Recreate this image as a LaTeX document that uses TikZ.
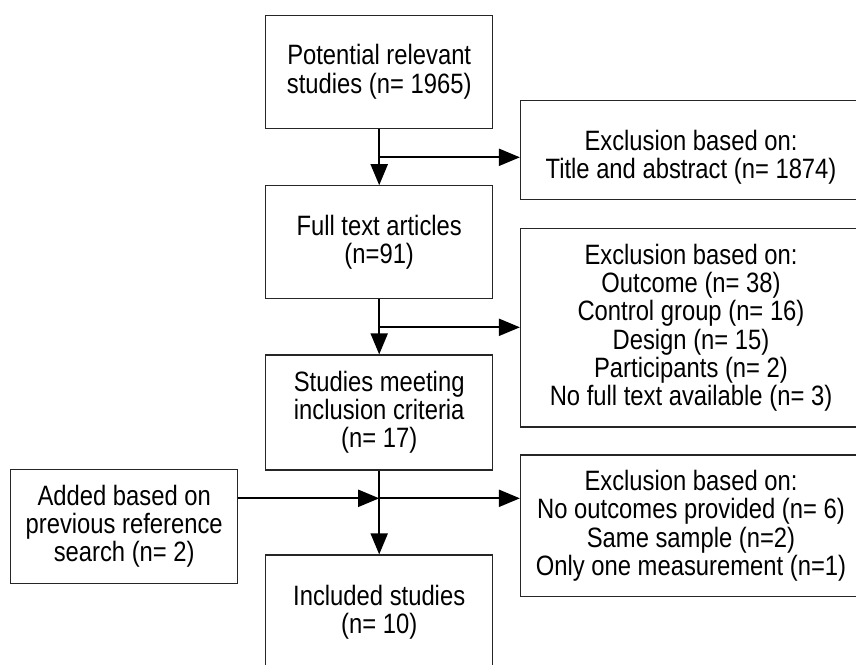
\documentclass[tikz,border=0pt]{standalone}
\usepackage{fontspec}
\setmainfont{Liberation Sans}
\newfontfamily\narrowarial[FakeStretch=0.85]{Liberation Sans}
\usetikzlibrary{arrows.meta}
\begin{document}
\begin{tikzpicture}[x=1pt,y=-1pt,
  box/.style={draw=black!85,line width=1.2pt,rectangle,inner sep=0pt,
    align=center,font=\narrowarial\fontsize{28}{28.2}\selectfont},
  txt/.style={inner sep=0pt,align=center,font=\narrowarial\fontsize{28}{28.2}\selectfont},
  arr/.style={line width=2pt,-{Triangle[length=21pt,width=17pt]}}]
\useasboundingbox (0,0) rectangle (856,664);
\clip (0,0) rectangle (856,664);
% main column
\node[box,minimum width=227pt,minimum height=113pt] (pot) at (379.2,71.7)
  {Potential relevant\\studies (n= 1965)};
\node[box,minimum width=227pt,minimum height=113pt] (full) at (379.2,242.3)
  {Full text articles\\(n=91)};
\node[box,minimum width=227pt,minimum height=115pt] (meet) at (379.2,412.5)
  {Studies meeting\\inclusion criteria\\(n= 17)};
\node[box,minimum width=227pt,minimum height=114pt] (incl) at (379.2,612)
  {Included studies\\(n= 10)};
\node[box,minimum width=227pt,minimum height=114pt] (added) at (124.2,526.3)
  {Added based on\\previous reference\\search (n= 2)};
% exclusion boxes
\node[box,minimum width=341pt,minimum height=98.6pt] (ex1) at (691,150) {};
\node[txt] (ex1t) at (691,157)
  {Exclusion based on:\\Title and abstract (n= 1874)};
\node[box,minimum width=341pt,minimum height=198.7pt] (ex2) at (691,327.7)
  {Exclusion based on:\\Outcome (n= 38)\\Control group (n= 16)\\Design (n= 15)\\Participants (n= 2)\\No full text available (n= 3)};
\node[box,minimum width=341pt,minimum height=141.7pt] (ex3) at (691,525.8)
  {Exclusion based on:\\No outcomes provided (n= 6)\\Same sample (n=2)\\Only one measurement (n=1)};
% junction points
\coordinate (j1) at (379.2,157.3);
\coordinate (j2) at (379.2,327.3);
\coordinate (j3) at (379.2,498.3);
% connectors
\draw[arr] (pot.south) -- (full.north);
\draw[arr] (j1) -- (ex1.west |- j1);
\draw[arr] (full.south) -- (meet.north);
\draw[arr] (j2) -- (ex2.west |- j2);
\draw[arr] (meet.south) -- (incl.north);
\draw[arr] (added.east |- j3) -- (j3);
\draw[arr] (j3) -- (ex3.west |- j3);
\end{tikzpicture}
\end{document}
